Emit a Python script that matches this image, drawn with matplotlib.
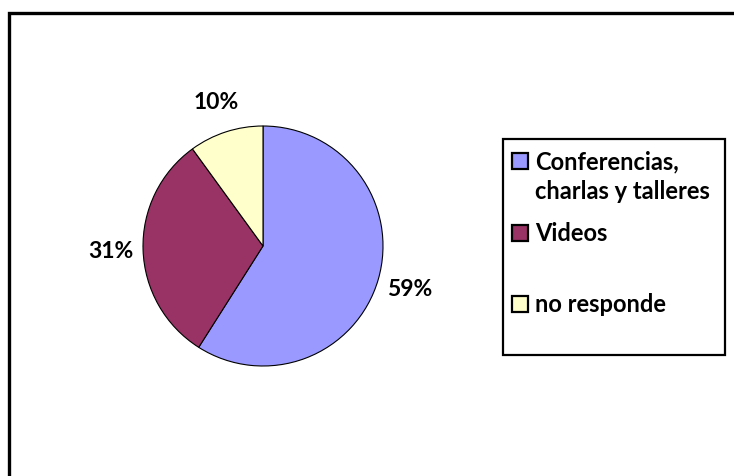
import matplotlib
matplotlib.use('Agg')
import matplotlib.pyplot as plt
from matplotlib.patches import Rectangle

labels = ['Conferencias,\ncharlas y talleres', 'Videos', 'no responde']
values = [59, 31, 10]
colors = ['#9999FF', '#993366', '#FFFFCC']

plt.rcParams['font.family'] = ['Lato', 'DejaVu Sans']
plt.rcParams['font.weight'] = 'bold'

W, H = 734, 477
fig = plt.figure(figsize=(W/100., H/100.), dpi=100)

# outer frame (only left and top visible in the original)
fig.patches.append(Rectangle((9/W, -0.1), 2.0, 1 - 14/H + 0.1, transform=fig.transFigure,
                             fill=False, lw=2.4, ec='black'))

# pie
cx, cy, r = 263, 477-247, 120
ax = fig.add_axes([(cx-r)/W, (cy-r)/H, 2*r/W, 2*r/H])
wedges, texts, autotexts = ax.pie(values, colors=colors, startangle=90, counterclock=False,
                                  autopct='%1.0f%%', pctdistance=1.27,
                                  wedgeprops=dict(edgecolor='black', linewidth=0.8))
for t in autotexts:
    t.set_fontsize(16.5)
    t.set_fontweight('bold')
    t.set_clip_on(False)
ax.set_xlim(-1, 1)
ax.set_ylim(-1, 1)
ax.set_aspect('equal')
ax.axis('off')

# legend box
lx0, ly0, lx1, ly1 = 503, 140, 725, 356
lax = fig.add_axes([0, 0, 1, 1])
lax.set_xlim(0, W)
lax.set_ylim(H, 0)
lax.axis('off')
lax.add_patch(Rectangle((lx0, ly0), lx1-lx0, ly1-ly0, fill=False, ec='black', lw=1.6))
rows = [162, 234, 305]
for lab, col, y in zip(labels, colors, rows):
    lax.add_patch(Rectangle((512, y-8), 16, 16, fc=col, ec='black', lw=1.6))
    for k, line in enumerate(lab.split('\n')):
        lax.text(535, y + k*30, line, fontsize=17, fontweight='bold', va='center', ha='left')

fig.savefig('out.png', dpi=100)
